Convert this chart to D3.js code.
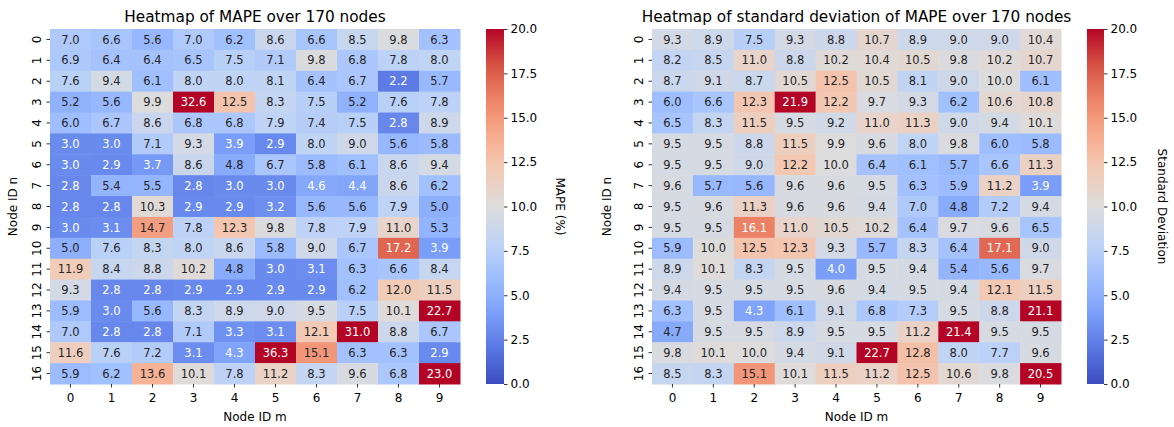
<!DOCTYPE html>
<html>
<head>
<meta charset="utf-8">
<script src="https://cdn.jsdelivr.net/npm/d3@7"></script>
<style>
  body { margin: 0; background: #fff; }
  text { font-family: "DejaVu Sans", sans-serif; }
</style>
</head>
<body>
<script>
// node ids
var colIds = [0, 1, 2, 3, 4, 5, 6, 7, 8, 9];
var rowIds = [0, 1, 2, 3, 4, 5, 6, 7, 8, 9, 10, 11, 12, 13, 14, 15, 16];
var cbTicks = [0, 2.5, 5, 7.5, 10, 12.5, 15, 17.5, 20];

// MAPE (%) per node (row n, col m)
var mapeRows = [
  [7.0, 6.6, 5.6, 7.0, 6.2, 8.6, 6.6, 8.5, 9.8, 6.3],
  [6.9, 6.4, 6.4, 6.5, 7.5, 7.1, 9.8, 6.8, 7.8, 8.0],
  [7.6, 9.4, 6.1, 8.0, 8.0, 8.1, 6.4, 6.7, 2.2, 5.7],
  [5.2, 5.6, 9.9, 32.6, 12.5, 8.3, 7.5, 5.2, 7.6, 7.8],
  [6.0, 6.7, 8.6, 6.8, 6.8, 7.9, 7.4, 7.5, 2.8, 8.9],
  [3.0, 3.0, 7.1, 9.3, 3.9, 2.9, 8.0, 9.0, 5.6, 5.8],
  [3.0, 2.9, 3.7, 8.6, 4.8, 6.7, 5.8, 6.1, 8.6, 9.4],
  [2.8, 5.4, 5.5, 2.8, 3.0, 3.0, 4.6, 4.4, 8.6, 6.2],
  [2.8, 2.8, 10.3, 2.9, 2.9, 3.2, 5.6, 5.6, 7.9, 5.0],
  [3.0, 3.1, 14.7, 7.8, 12.3, 9.8, 7.8, 7.9, 11.0, 5.3],
  [5.0, 7.6, 8.3, 8.0, 8.6, 5.8, 9.0, 6.7, 17.2, 3.9],
  [11.9, 8.4, 8.8, 10.2, 4.8, 3.0, 3.1, 6.3, 6.6, 8.4],
  [9.3, 2.8, 2.8, 2.9, 2.9, 2.9, 2.9, 6.2, 12.0, 11.5],
  [5.9, 3.0, 5.6, 8.3, 8.9, 9.0, 9.5, 7.5, 10.1, 22.7],
  [7.0, 2.8, 2.8, 7.1, 3.3, 3.1, 12.1, 31.0, 8.8, 6.7],
  [11.6, 7.6, 7.2, 3.1, 4.3, 36.3, 15.1, 6.3, 6.3, 2.9],
  [5.9, 6.2, 13.6, 10.1, 7.8, 11.2, 8.3, 9.6, 6.8, 23.0]
];

// standard deviation of MAPE
var stdRows = [
  [9.3, 8.9, 7.5, 9.3, 8.8, 10.7, 8.9, 9.0, 9.0, 10.4],
  [8.2, 8.5, 11.0, 8.8, 10.2, 10.4, 10.5, 9.8, 10.2, 10.7],
  [8.7, 9.1, 8.7, 10.5, 12.5, 10.5, 8.1, 9.0, 10.0, 6.1],
  [6.0, 6.6, 12.3, 21.9, 12.2, 9.7, 9.3, 6.2, 10.6, 10.8],
  [6.5, 8.3, 11.5, 9.5, 9.2, 11.0, 11.3, 9.0, 9.4, 10.1],
  [9.5, 9.5, 8.8, 11.5, 9.9, 9.6, 8.0, 9.8, 6.0, 5.8],
  [9.5, 9.5, 9.0, 12.2, 10.0, 6.4, 6.1, 5.7, 6.6, 11.3],
  [9.6, 5.7, 5.6, 9.6, 9.6, 9.5, 6.3, 5.9, 11.2, 3.9],
  [9.5, 9.6, 11.3, 9.6, 9.6, 9.4, 7.0, 4.8, 7.2, 9.4],
  [9.5, 9.5, 16.1, 11.0, 10.5, 10.2, 6.4, 9.7, 9.6, 6.5],
  [5.9, 10.0, 12.5, 12.3, 9.3, 5.7, 8.3, 6.4, 17.1, 9.0],
  [8.9, 10.1, 8.3, 9.5, 4.0, 9.5, 9.4, 5.4, 5.6, 9.7],
  [9.4, 9.5, 9.5, 9.5, 9.6, 9.4, 9.5, 9.4, 12.1, 11.5],
  [6.3, 9.5, 4.3, 6.1, 9.1, 6.8, 7.3, 9.5, 8.8, 21.1],
  [4.7, 9.5, 9.5, 8.9, 9.5, 9.5, 11.2, 21.4, 9.5, 9.5],
  [9.8, 10.1, 10.0, 9.4, 9.1, 22.7, 12.8, 8.0, 7.7, 9.6],
  [8.5, 8.3, 15.1, 10.1, 11.5, 11.2, 12.5, 10.6, 9.8, 20.5]
];

// matplotlib coolwarm, sampled
var coolwarm = ["#3b4cc0", "#5977e3", "#7b9ff9", "#9ebeff", "#c0d4f5", "#dddcdc",
                "#f2cbb7", "#f7ac8e", "#ee8468", "#d65244", "#b40426"];
var cwInterp = d3.piecewise(d3.interpolateRgb, coolwarm);

var W = 1174, H = 427;
var svg = d3.select("body").append("svg").attr("width", W).attr("height", H);

function lum(c) {
  var rgb = d3.rgb(c);
  var f = function(v) { v /= 255; return v <= 0.03928 ? v / 12.92 : Math.pow((v + 0.055) / 1.055, 2.4); };
  return 0.2126 * f(rgb.r) + 0.7152 * f(rgb.g) + 0.0722 * f(rgb.b);
}

function drawHeatmap(o) {
  var g = svg.append("g");
  var x = d3.scaleBand().domain(colIds).range([o.x0, o.x1]);
  var y = d3.scaleBand().domain(rowIds).range([o.y0, o.y1]);
  var color = d3.scaleSequential(cwInterp).domain([0, 20]).clamp(true);

  var cells = [];
  o.rows.forEach(function(r, i) {
    r.forEach(function(v, j) { cells.push({ n: rowIds[i], m: colIds[j], v: v }); });
  });

  g.selectAll("rect.cell").data(cells).enter().append("rect")
    .attr("class", "cell")
    .attr("x", function(d) { return x(d.m); })
    .attr("y", function(d) { return y(d.n); })
    .attr("width", x.bandwidth() + 0.5)
    .attr("height", y.bandwidth() + 0.5)
    .attr("fill", function(d) { return color(d.v); });

  g.selectAll("text.annot").data(cells).enter().append("text")
    .attr("class", "annot")
    .attr("x", function(d) { return x(d.m) + x.bandwidth() / 2; })
    .attr("y", function(d) { return y(d.n) + y.bandwidth() / 2; })
    .attr("dy", "0.36em")
    .attr("text-anchor", "middle")
    .style("font-size", "11.5px")
    .attr("fill", function(d) { return lum(color(d.v)) > 0.408 ? "#262626" : "#ffffff"; })
    .text(function(d) { return d3.format(".1f")(d.v); });

  // axes
  var xa = g.append("g").attr("transform", "translate(0," + o.y1 + ")")
    .call(d3.axisBottom(x).tickSize(3.5).tickPadding(3));
  var ya = g.append("g").attr("transform", "translate(" + o.x0 + ",0)")
    .call(d3.axisLeft(y).tickSize(3.5).tickPadding(3));
  [xa, ya].forEach(function(a) {
    a.select(".domain").remove();
    a.selectAll("text").style("font-size", "12px").attr("fill", "#000").style("font-family", "DejaVu Sans");
    a.selectAll("line").attr("stroke", "#000").attr("stroke-width", 0.8);
  });
  ya.selectAll(".tick text")
    .attr("transform", function() { return "rotate(-90," + (-6.5) + ",0)"; })
    .attr("x", -6.5).attr("dy", "0").attr("text-anchor", "middle")
    .attr("y", -3);
  xa.selectAll(".tick text").attr("dy", "0.95em");

  g.append("text").attr("x", (o.x0 + o.x1) / 2).attr("y", 22)
    .attr("text-anchor", "middle").style("font-size", "15.3px").text(o.title);
  g.append("text").attr("x", (o.x0 + o.x1) / 2).attr("y", 421)
    .attr("text-anchor", "middle").style("font-size", "12px").text("Node ID m");
  g.append("text").attr("transform", "translate(" + o.ylabX + "," + ((o.y0 + o.y1) / 2) + ") rotate(-90)")
    .attr("text-anchor", "middle").style("font-size", "12px").text("Node ID n");

  // colorbar
  var gid = "grad" + o.id;
  var grad = svg.append("defs").append("linearGradient").attr("id", gid)
    .attr("x1", 0).attr("y1", 1).attr("x2", 0).attr("y2", 0);
  d3.range(0, 1.0001, 0.05).forEach(function(t) {
    grad.append("stop").attr("offset", t).attr("stop-color", cwInterp(t));
  });
  var cb = g.append("g");
  cb.append("rect").attr("x", o.cbX).attr("y", o.y0).attr("width", o.cbW).attr("height", o.y1 - o.y0)
    .attr("fill", "url(#" + gid + ")");
  var cy = d3.scaleLinear().domain([0, 20]).range([o.y1, o.y0]);
  var ca = cb.append("g").attr("transform", "translate(" + (o.cbX + o.cbW) + ",0)")
    .call(d3.axisRight(cy).tickValues(cbTicks).tickFormat(d3.format(".1f")).tickSize(3.5).tickPadding(3));
  ca.select(".domain").remove();
  ca.selectAll("text").style("font-size", "12px").attr("fill", "#000").style("font-family", "DejaVu Sans");
  ca.selectAll("line").attr("stroke", "#000").attr("stroke-width", 0.8);
  g.append("text").attr("transform", "translate(" + o.cbLabX + "," + ((o.y0 + o.y1) / 2) + ") rotate(90)")
    .attr("text-anchor", "middle").style("font-size", "12px").text(o.cbLabel);
}

drawHeatmap({ id: 1, rows: mapeRows, title: "Heatmap of MAPE over 170 nodes",
  x0: 50, x1: 460, y0: 29, y1: 384, ylabX: 17, cbX: 486, cbW: 18, cbLabX: 556, cbLabel: "MAPE (%)" });
drawHeatmap({ id: 2, rows: stdRows, title: "Heatmap of standard deviation of MAPE over 170 nodes",
  x0: 652, x1: 1061, y0: 29, y1: 384, ylabX: 611, cbX: 1087, cbW: 17, cbLabX: 1158, cbLabel: "Standard Deviation" });
</script>
</body>
</html>
